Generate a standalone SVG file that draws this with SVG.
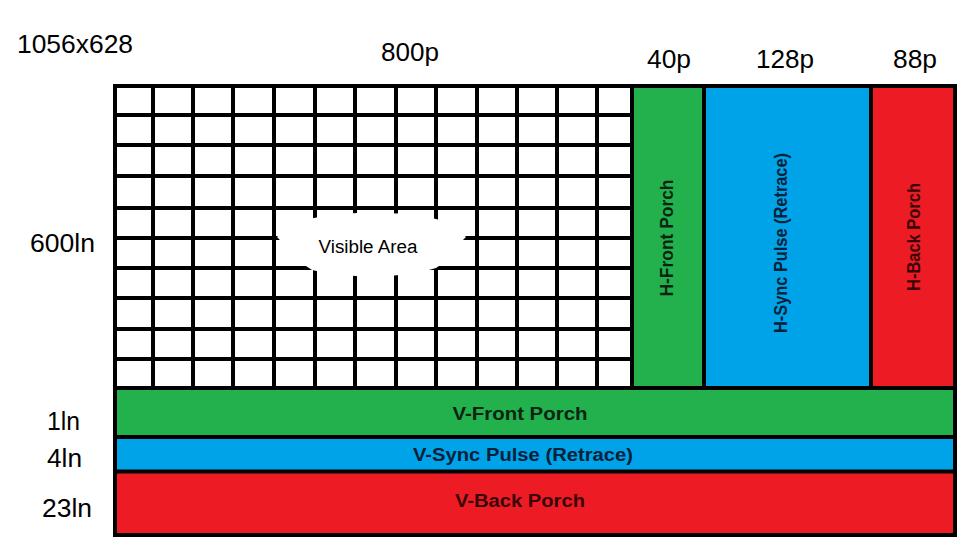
<svg xmlns="http://www.w3.org/2000/svg" width="960" height="540" viewBox="0 0 960 540">
  <style>
    .lbl { font-family: "Liberation Sans", Arial, sans-serif; font-size: 25px; fill: #000; }
    .band { font-family: "Liberation Sans", Arial, sans-serif; font-size: 18px; font-weight: bold; text-anchor: middle; }
    .grid line { stroke: #000; stroke-width: 4; }
    .edge { stroke: #000; stroke-width: 4; fill: none; }
    .green { fill: #22B14C; }
    .blue { fill: #00A2E8; }
    .red { fill: #ED1C24; }
    .tg { fill: #0c2412; }
    .tb { fill: #06223a; }
    .tr { fill: #3a0608; }
  </style>
  <rect width="960" height="540" fill="#fff"/>

  <g id="visible-area">
    <rect x="115" y="86" width="517" height="302" fill="#fff"/>
    <g class="grid">
      <line x1="153" y1="86" x2="153" y2="388"/>
      <line x1="193" y1="86" x2="193" y2="388"/>
      <line x1="233" y1="86" x2="233" y2="388"/>
      <line x1="274" y1="86" x2="274" y2="388"/>
      <line x1="315" y1="86" x2="315" y2="388"/>
      <line x1="355" y1="86" x2="355" y2="388"/>
      <line x1="396" y1="86" x2="396" y2="388"/>
      <line x1="436" y1="86" x2="436" y2="388"/>
      <line x1="477" y1="86" x2="477" y2="388"/>
      <line x1="517" y1="86" x2="517" y2="388"/>
      <line x1="557" y1="86" x2="557" y2="388"/>
      <line x1="597" y1="86" x2="597" y2="388"/>
      <line x1="115" y1="115" x2="632" y2="115"/>
      <line x1="115" y1="145" x2="632" y2="145"/>
      <line x1="115" y1="176" x2="632" y2="176"/>
      <line x1="115" y1="208" x2="632" y2="208"/>
      <line x1="115" y1="238" x2="632" y2="238"/>
      <line x1="115" y1="268" x2="632" y2="268"/>
      <line x1="115" y1="298" x2="632" y2="298"/>
      <line x1="115" y1="329" x2="632" y2="329"/>
      <line x1="115" y1="359" x2="632" y2="359"/>
    </g>
    <path d="M277,237 C290,226 300,220 314,218 C350,211 400,211 436,219 C448,222 458,230 466,237 C456,246 446,262 436,268 C400,279 350,279 312,270 C298,262 288,248 277,237 Z" fill="#fff"/>
    <text x="368" y="253" font-family="Liberation Sans, Arial, sans-serif" font-size="18" text-anchor="middle" fill="#000" textLength="99" lengthAdjust="spacingAndGlyphs">Visible Area</text>
  </g>

  <g id="h-front-porch">
    <rect class="green" x="632" y="86" width="72" height="302"/>
    <text class="band tg" transform="translate(673,238) rotate(-90)" textLength="117" lengthAdjust="spacingAndGlyphs">H-Front Porch</text>
  </g>

  <g id="h-sync-pulse">
    <rect class="blue" x="704" y="86" width="167" height="302"/>
    <text class="band tb" transform="translate(787,243) rotate(-90)" textLength="180" lengthAdjust="spacingAndGlyphs">H-Sync Pulse (Retrace)</text>
  </g>

  <g id="h-back-porch">
    <rect class="red" x="871" y="86" width="84" height="302"/>
    <text class="band tr" transform="translate(920,237) rotate(-90)" textLength="108" lengthAdjust="spacingAndGlyphs">H-Back Porch</text>
  </g>

  <g id="v-front-porch">
    <rect class="green" x="115" y="388" width="840" height="49"/>
    <text class="band tg" x="520" y="420" textLength="135" lengthAdjust="spacingAndGlyphs">V-Front Porch</text>
  </g>

  <g id="v-sync-pulse">
    <rect class="blue" x="115" y="437" width="840" height="34"/>
    <text class="band tb" x="523" y="461" textLength="220" lengthAdjust="spacingAndGlyphs">V-Sync Pulse (Retrace)</text>
  </g>

  <g id="v-back-porch">
    <rect class="red" x="115" y="471" width="840" height="64"/>
    <text class="band tr" x="520" y="507" textLength="130" lengthAdjust="spacingAndGlyphs">V-Back Porch</text>
  </g>

  <g id="borders">
    <rect class="edge" x="115" y="86" width="840" height="449"/>
    <line class="edge" x1="632" y1="86" x2="632" y2="388"/>
    <line class="edge" x1="704" y1="86" x2="704" y2="388" stroke-width="5"/>
    <line class="edge" x1="871" y1="86" x2="871" y2="388"/>
    <line class="edge" x1="115" y1="388" x2="955" y2="388"/>
    <line class="edge" x1="115" y1="437" x2="955" y2="437" stroke-width="3.5"/>
    <line class="edge" x1="115" y1="471.5" x2="955" y2="471.5" stroke-width="3"/>
  </g>

  <g id="labels">
    <text class="lbl" x="17" y="53" textLength="116" lengthAdjust="spacingAndGlyphs">1056x628</text>
    <text class="lbl" x="381" y="61" textLength="58" lengthAdjust="spacingAndGlyphs">800p</text>
    <text class="lbl" x="647" y="68" textLength="44" lengthAdjust="spacingAndGlyphs">40p</text>
    <text class="lbl" x="756" y="68" textLength="58" lengthAdjust="spacingAndGlyphs">128p</text>
    <text class="lbl" x="893" y="68" textLength="44" lengthAdjust="spacingAndGlyphs">88p</text>
    <text class="lbl" x="30" y="252" textLength="65" lengthAdjust="spacingAndGlyphs">600ln</text>
    <text class="lbl" x="47" y="430" textLength="33" lengthAdjust="spacingAndGlyphs">1ln</text>
    <text class="lbl" x="47" y="467" textLength="35" lengthAdjust="spacingAndGlyphs">4ln</text>
    <text class="lbl" x="42" y="517" textLength="50" lengthAdjust="spacingAndGlyphs">23ln</text>
  </g>
</svg>
